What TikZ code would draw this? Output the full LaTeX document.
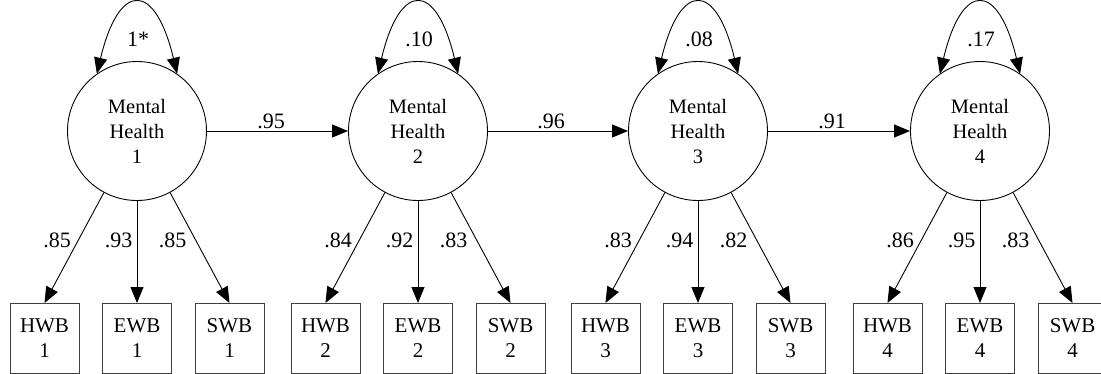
\documentclass[tikz,border=0pt]{standalone}
\usepackage{fontspec}
\setmainfont{Liberation Serif}
\usetikzlibrary{arrows.meta}
\begin{document}
\begin{tikzpicture}[x=1pt,y=-1pt,
  every node/.style={font=\fontsize{20.5}{25}\selectfont},
  latent/.style={draw, circle, minimum size=139pt, inner sep=0pt, align=center, line width=0.9pt},
  indicator/.style={draw=black!75, line width=0.9pt, minimum width=69pt, minimum height=69.5pt,
    inner sep=0pt, anchor=north, align=center, font=\fontsize{21}{25}\selectfont},
  path/.style={line width=0.9pt, -{Triangle[length=16pt,width=13pt]}},
  variance/.style={line width=0.9pt, {Triangle[length=16pt,width=13pt]}-{Triangle[length=16pt,width=13pt]}},
  coef/.style={inner sep=0pt, anchor=base, font=\fontsize{22}{25}\selectfont}
]
\useasboundingbox (0,0) rectangle (1101,373);

% latent factors, their variances and indicators
\foreach \i/\cx/\var/\la/\lb/\lc in {1/137/1*/.85/.93/.85, 2/418/.10/.84/.92/.83,
                                     3/698/.08/.83/.94/.82, 4/980/.17/.86/.95/.83} {
  \node[latent] (m\i) at (\cx,131) {Mental\\Health\\\i};
  \node[indicator] (h\i) at (\cx-92.5,303) {HWB\\\i};
  \node[indicator] (e\i) at (\cx,303) {EWB\\\i};
  \node[indicator] (s\i) at (\cx+92.5,303) {SWB\\\i};
  \draw[variance] (m\i.125) .. controls ([shift={(-18,-150)}]m\i.center)
                              and ([shift={(18,-150)}]m\i.center) .. (m\i.55);
  \node[coef] (v\i) at (\cx+1,46) {\var};
  \draw[path] (m\i) -- (h\i.north);
  \draw[path] (m\i) -- (e\i.north);
  \draw[path] (m\i) -- (s\i.north);
  \node[coef] (lh\i) at (\cx-80,247) {\la};
  \node[coef] (le\i) at (\cx-18.5,247) {\lb};
  \node[coef] (ls\i) at (\cx+35.5,247) {\lc};
}

% stability paths between waves
\draw[path] (m1) -- (m2);
\draw[path] (m2) -- (m3);
\draw[path] (m3) -- (m4);
\node[coef] (b12) at (271,128) {.95};
\node[coef] (b23) at (551,128) {.96};
\node[coef] (b34) at (832,128) {.91};
\end{tikzpicture}
\end{document}
